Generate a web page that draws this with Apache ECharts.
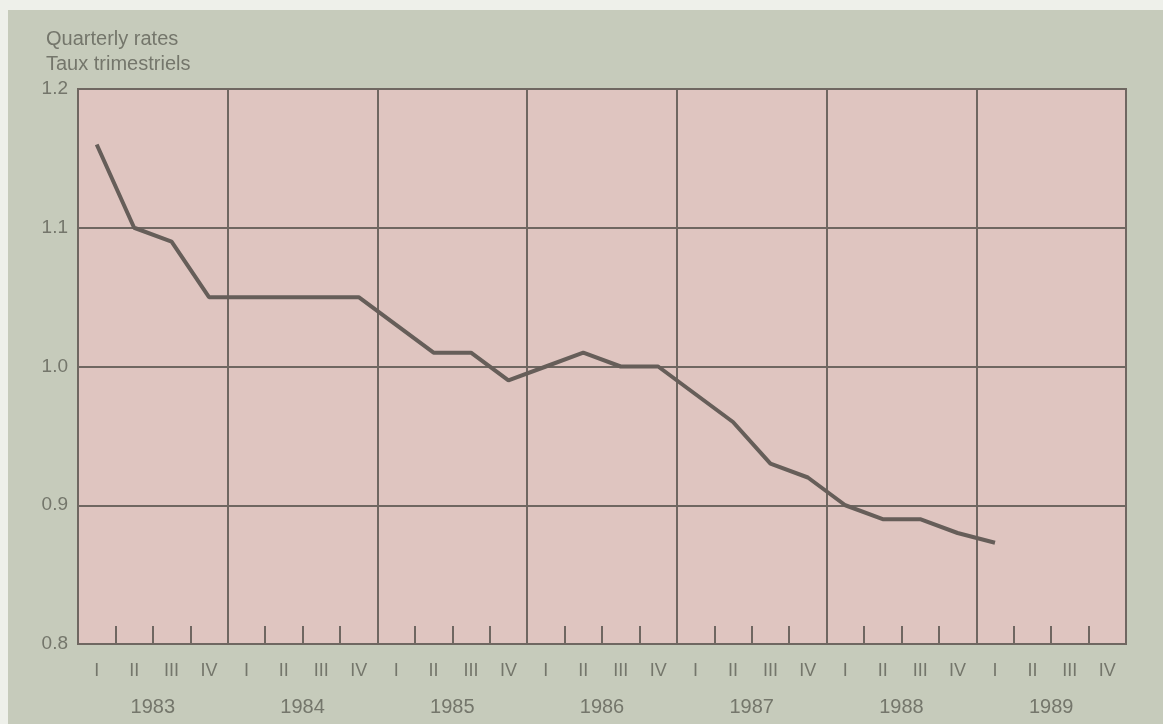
<!DOCTYPE html>
<html>
<head>
<meta charset="utf-8">
<script src="https://cdn.jsdelivr.net/npm/echarts@6/dist/echarts.min.js"></script>
<style>
html,body{margin:0;padding:0;background:#eef0ea;}
#c{position:absolute;left:8px;top:10px;width:1155px;height:714px;}
</style>
</head>
<body>
<div id="c"></div>
<script>
var years = ['1983','1984','1985','1986','1987','1988','1989'];
var quarterNames = ['I','II','III','IV'];
var rates = [
  1.16, 1.10, 1.09, 1.05,
  1.05, 1.05, 1.05, 1.05,
  1.03, 1.01, 1.01, 0.99,
  1.00, 1.01, 1.00, 1.00,
  0.98, 0.96, 0.93, 0.92,
  0.90, 0.89, 0.89, 0.88,
  0.873, null, null, null
];
var yTicks = [0.8, 0.9, 1.0, 1.1, 1.2];

var quarters = [];
years.forEach(function(y){ quarterNames.forEach(function(q){ quarters.push(y + ' ' + q); }); });

var textColor = '#74766b';
var gridColor = '#6f6761';
var lineColor = '#665e59';
var font = 'Liberation Sans, Arial, sans-serif';

var chart = echarts.init(document.getElementById('c'));
chart.setOption({
  backgroundColor: '#c6cbbb',
  animation: false,
  title: {
    text: 'Quarterly rates\nTaux trimestriels',
    left: 33, top: 12,
    textStyle: {color: textColor, fontSize: 20, fontWeight: 'normal', fontFamily: font, lineHeight: 25}
  },
  grid: {left: 70, right: 37, top: 79, bottom: 80, show: true, backgroundColor: '#dfc5c0', borderColor: gridColor, borderWidth: 2},
  xAxis: [{
    type: 'category',
    data: quarters,
    boundaryGap: true,
    axisLine: {show: true, lineStyle: {color: gridColor, width: 2}},
    axisTick: {show: true, inside: true, length: 18, lineStyle: {color: gridColor, width: 2}},
    splitLine: {show: true, interval: function(i){ return i % 4 === 0; }, lineStyle: {color: gridColor, width: 2}},
    axisLabel: {
      interval: 0, margin: 18,
      color: textColor, fontSize: 18, fontFamily: font,
      formatter: function(v){ return v.split(' ')[1]; }
    }
  }, {
    type: 'category',
    data: years,
    position: 'bottom',
    offset: 37,
    boundaryGap: true,
    axisLine: {show: false},
    axisTick: {show: false},
    splitLine: {show: false},
    axisLabel: {interval: 0, margin: 16, color: textColor, fontSize: 20, fontFamily: font}
  }],
  yAxis: {
    type: 'value',
    min: yTicks[0], max: yTicks[yTicks.length - 1], interval: 0.1,
    axisLine: {show: true, lineStyle: {color: gridColor, width: 2}},
    axisTick: {show: false},
    splitLine: {show: true, lineStyle: {color: gridColor, width: 2}},
    axisLabel: {
      color: textColor, fontSize: 19, margin: 10, fontFamily: font,
      formatter: function(v){ return v.toFixed(1); }
    }
  },
  series: [{
    type: 'line',
    data: rates,
    xAxisIndex: 0,
    showSymbol: false,
    symbol: 'none',
    lineStyle: {color: lineColor, width: 4},
    connectNulls: false
  }]
});
</script>
</body>
</html>
